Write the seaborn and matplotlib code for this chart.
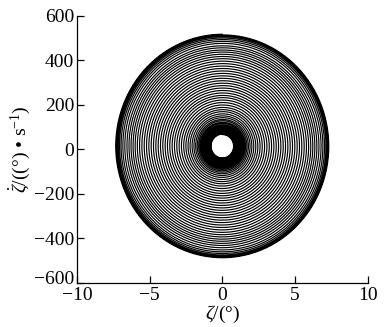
import numpy as np
import pandas as pd
import matplotlib
matplotlib.use("Agg")
import matplotlib.pyplot as plt
import matplotlib.transforms as mtransforms
import seaborn as sns

# Amplitude of the roll angle (deg) on each successive turn of the phase trajectory
turn_zeta_amp = [0.76, 0.79, 0.82, 0.85, 0.88, 0.92, 0.96, 1.00, 1.05, 1.10, 1.15, 1.21,
                 1.27, 1.34, 1.41, 1.49, 1.57, 1.66, 1.76, 1.87, 1.99, 2.12, 2.26, 2.40,
                 2.55, 2.70, 2.86, 3.02, 3.18, 3.34, 3.50, 3.66, 3.82, 3.98, 4.14, 4.30,
                 4.46, 4.62, 4.78, 4.94, 5.10, 5.26, 5.42, 5.58, 5.74, 5.89, 6.04, 6.18,
                 6.32, 6.46, 6.60, 6.75, 6.88, 7.00, 7.10, 7.18, 7.25, 7.30, 7.35]
# Amplitude of the roll rate ((deg)/s) on each turn
turn_rate_amp = [52, 54, 56, 58, 60, 63, 66, 68, 72, 75, 79, 83,
                 87, 92, 96, 102, 107, 114, 120, 128, 136, 145, 155, 164,
                 174, 185, 196, 207, 218, 228, 239, 250, 261, 272, 283, 294,
                 305, 316, 327, 338, 349, 360, 371, 382, 393, 403, 413, 423,
                 432, 442, 451, 462, 471, 479, 486, 492, 496, 500, 503]
rate_center = 15  # mean roll rate of the oscillation

x_ticks = [-10, -5, 0, 5, 10]
y_ticks = [-600, -400, -200, 0, 200, 400, 600]

# Build the continuous trajectory: each turn sweeps one full cycle while its
# amplitude moves from one listed value to the next.
theta = np.linspace(0, 2 * np.pi, 240, endpoint=False)
frac = theta / (2 * np.pi)
xs, ys = [], []
for k in range(len(turn_zeta_amp) - 1):
    ax_amp = turn_zeta_amp[k] + (turn_zeta_amp[k + 1] - turn_zeta_amp[k]) * frac
    ay_amp = turn_rate_amp[k] + (turn_rate_amp[k + 1] - turn_rate_amp[k]) * frac
    xs.append(ax_amp * np.sin(theta))
    ys.append(ay_amp * np.cos(theta) + rate_center)
xs.append([0.0])
ys.append([turn_rate_amp[-1] + rate_center])
df = pd.DataFrame({"zeta": np.concatenate(xs), "rate": np.concatenate(ys)})

sns.set_theme(style="ticks")
plt.rcParams["font.family"] = ["Liberation Serif", "DejaVu Serif"]
plt.rcParams["mathtext.fontset"] = "custom"
plt.rcParams["mathtext.rm"] = "Liberation Serif"
plt.rcParams["mathtext.it"] = "Liberation Serif:italic"

fig = plt.figure(figsize=(3.86, 3.27), dpi=100)
ax = fig.add_axes([0.1995, 0.1346, 0.7535, 0.8165])

sns.lineplot(data=df, x="zeta", y="rate", sort=False, estimator=None,
             color="black", linewidth=0.85, ax=ax)

ax.set_xlim(-10, 10)
ax.set_ylim(-600, 600)
ax.set_xticks(x_ticks)
ax.set_yticks(y_ticks)
ax.tick_params(direction="in", length=5, width=0.9, labelsize=14, colors="black")
ax.tick_params(axis="x", pad=3)
ax.tick_params(axis="y", pad=2)
for side in ("top", "right"):
    ax.spines[side].set_visible(False)
for side in ("left", "bottom"):
    ax.spines[side].set_color("black")
    ax.spines[side].set_linewidth(0.9)

# Lift the lowest y label a little so it clears the first x label
lift = mtransforms.ScaledTranslation(0, 4 / 72, fig.dpi_scale_trans)
low_label = ax.get_yticklabels()[0]
low_label.set_transform(low_label.get_transform() + lift)

ax.set_xlabel(r"$\zeta$/(°)", fontsize=14, labelpad=0, color="black")
ax.set_ylabel(r"$\dot{\zeta}$/((°) • s$^{-1}$)", fontsize=14, labelpad=1,
              color="black")

fig.savefig("out.png", dpi=100)
